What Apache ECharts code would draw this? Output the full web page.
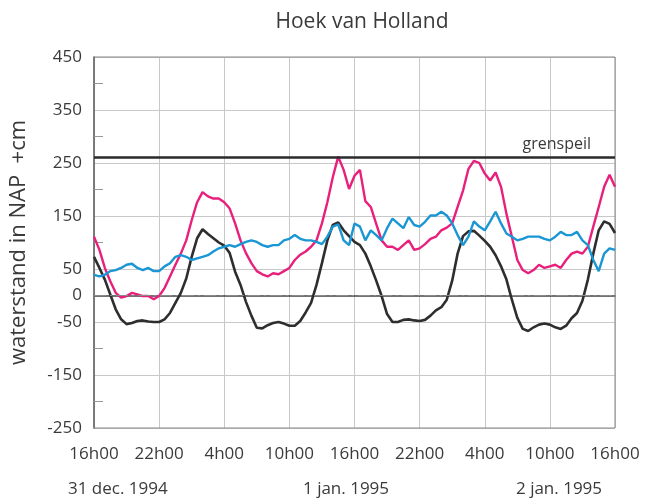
<!DOCTYPE html>
<html>
<head>
<meta charset="utf-8">
<script src="https://cdn.jsdelivr.net/npm/echarts@6/dist/echarts.min.js"></script>
<style>
html,body{margin:0;padding:0;background:#fff;}
#c{width:647px;height:504px;}
</style>
</head>
<body>
<div id="c"></div>
<script>
// Time axis: hours after 31 dec. 1994 16h00, sampled every half hour
const hourStep = 0.5;
const xTickLabels = ['16h00','22h00','4h00','10h00','16h00','22h00','4h00','10h00','16h00'];
const dateLabels = ['31 dec. 1994','1 jan. 1995','2 jan. 1995'];
const yLabelValues = [450,350,250,150,50,0,-50,-150,-250];
const grenspeil = 260;

// black series (astronomisch getij)
const black = [73,52,30,2,-26,-45,-54,-52,-48,-47,-49,-50,-50,-45,-33,-14,5,32,73,108,
  125,116,108,100,94,80,45,20,-12,-38,-61,-62,-56,-52,-50,-53,-57,-57,-48,-32,
  -14,20,61,104,133,138,123,112,101,95,79,55,28,-1,-35,-50,-50,-46,-45,-47,
  -48,-46,-38,-28,-22,-8,28,79,112,121,122,113,103,92,76,55,30,-8,-42,-63,
  -67,-60,-55,-53,-55,-60,-63,-57,-43,-33,-10,30,79,123,140,135,118];
// magenta series (gemeten waterstand)
const magenta = [111,86,52,27,5,-4,-1,5,2,-1,-1,-7,-1,14,36,58,79,104,142,176,
  195,187,183,183,176,164,136,104,80,61,46,40,36,42,40,46,52,67,77,83,
  92,104,136,176,223,262,237,201,226,237,178,167,135,104,92,92,86,95,104,86,
  89,97,107,111,123,128,136,167,198,239,254,250,230,217,232,205,154,111,67,48,
  42,48,58,52,55,58,52,67,79,83,79,92,130,167,205,228,205];
// blue series (opzet)
const blue = [39,36,39,46,48,52,58,60,52,48,52,46,46,55,61,73,76,73,67,70,
  73,76,83,89,92,95,92,97,101,104,101,95,92,95,95,104,107,114,107,104,
  104,101,97,111,130,134,104,95,136,130,104,123,114,104,127,145,136,127,148,133,
  130,139,151,151,158,151,136,114,95,111,140,130,123,140,158,136,117,111,104,107,
  111,111,111,107,104,111,120,114,114,120,104,95,67,46,79,89,86];

const hours = black.map((_, i) => i * hourStep);
const pairs = arr => arr.map((v, i) => [hours[i], v]);

const chart = echarts.init(document.getElementById('c'));
const FONT = 'Open Sans';
const TXT = '#3a3a3a';
chart.setOption({
  animation: false,
  backgroundColor: '#fff',
  textStyle: {fontFamily: FONT},
  title: {
    text: 'Hoek van Holland', left: 357, top: 7, textAlign: 'center',
    textStyle: {fontFamily: FONT, fontSize: 21, fontWeight: 'normal', color: TXT}
  },
  grid: {left: 94, right: 32, top: 57, bottom: 76},
  xAxis: {
    type: 'value', min: 0, max: 48, interval: 6,
    axisLine: {show: true, lineStyle: {color: '#444', width: 1.5}},
    axisTick: {show: false},
    splitLine: {show: true, lineStyle: {color: '#c8c8c8', width: 1}},
    axisLabel: {
      margin: 18, fontSize: 17, color: TXT, fontFamily: FONT,
      formatter: v => xTickLabels[Math.round(v / 6)] || ''
    }
  },
  yAxis: [{
    type: 'value', min: -250, max: 450, interval: 100,
    name: 'waterstand in NAP  +cm', nameLocation: 'middle', nameGap: 64,
    nameTextStyle: {fontSize: 22, color: TXT, fontFamily: FONT},
    axisLine: {show: true, lineStyle: {color: '#444', width: 1.5}},
    axisTick: {show: false, inside: true},
    minorTick: {show: true, splitNumber: 2, length: 9, lineStyle: {color: '#999'}},
    splitLine: {show: true, lineStyle: {color: '#c8c8c8', width: 1}},
    axisLabel: {
      margin: 12, fontSize: 17, color: TXT, fontFamily: FONT,
      formatter: v => yLabelValues.includes(v) ? String(v) : ''
    }
  }, {
    type: 'value', min: -250, max: 450, interval: 50, position: 'left',
    axisLine: {show: false}, axisTick: {show: false}, splitLine: {show: false},
    axisLabel: {
      margin: 12, fontSize: 17, color: TXT, fontFamily: FONT,
      formatter: v => v === 0 ? '0' : ''
    }
  }],
  graphic: [
    {type: 'rect', shape: {x: 94, y: 57, width: 521, height: 371}, silent: true,
     style: {fill: 'none', stroke: '#888', lineWidth: 1}, z: 1},
    {type: 'text', left: 68, top: 481, style: {text: dateLabels[0], fontSize: 17, fill: TXT, fontFamily: FONT}},
    {type: 'text', left: 303, top: 481, style: {text: dateLabels[1], fontSize: 17, fill: TXT, fontFamily: FONT}},
    {type: 'text', left: 516, top: 481, style: {text: dateLabels[2], fontSize: 17, fill: TXT, fontFamily: FONT}}
  ],
  series: [
    {
      type: 'line', data: pairs(black), showSymbol: false, smooth: false,
      lineStyle: {color: '#2e2e2e', width: 2.6}, z: 3,
      markLine: {
        silent: true, symbol: 'none',
        data: [
          {yAxis: grenspeil, lineStyle: {color: '#2a2a2a', width: 2.6, type: 'solid'},
           label: {show: true, position: 'insideEndTop', formatter: 'grenspeil', fontSize: 16,
                   color: TXT, fontFamily: FONT, distance: [24, 5]}},
          {yAxis: 0, lineStyle: {color: '#8a8a8a', width: 1, type: [12, 4, 2, 4]}, label: {show: false}}
        ]
      }
    },
    {type: 'line', data: pairs(magenta), showSymbol: false, smooth: false,
     lineStyle: {color: '#e8207c', width: 2.4}, z: 4},
    {type: 'line', data: pairs(blue), showSymbol: false, smooth: false,
     lineStyle: {color: '#1a96d4', width: 2.4}, z: 5}
  ]
});
</script>
</body>
</html>
